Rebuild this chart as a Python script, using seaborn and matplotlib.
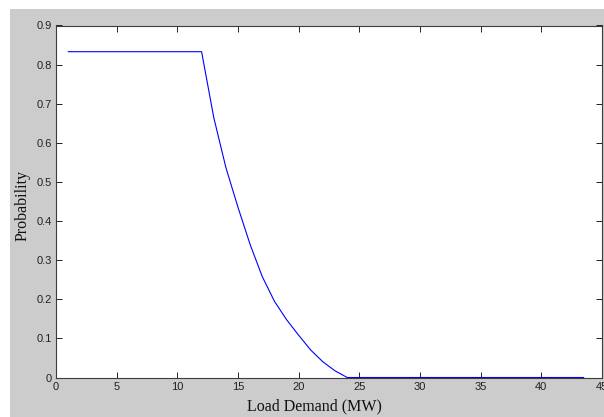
import matplotlib
matplotlib.use("Agg")
import matplotlib.pyplot as plt
import seaborn as sns
import pandas as pd
from matplotlib.patches import Rectangle

# Data
load_mw = [1, 12, 13, 14, 15, 16, 17, 18, 19, 20, 21, 22, 23, 24, 43.5]
probability = [0.833, 0.833, 0.665, 0.537, 0.435, 0.34, 0.258, 0.195, 0.148, 0.108,
               0.07, 0.04, 0.017, 0.0, 0.0]
x_ticks = [0, 5, 10, 15, 20, 25, 30, 35, 40, 45]
y_ticks = [0, 0.1, 0.2, 0.3, 0.4, 0.5, 0.6, 0.7, 0.8, 0.9]

df = pd.DataFrame({"Load Demand (MW)": load_mw, "Probability": probability})

sns.set_theme(style="white")
plt.rcParams["font.family"] = ["Liberation Sans", "DejaVu Sans"]

W, H = 604, 417
fig = plt.figure(figsize=(W / 100, H / 100), dpi=100, facecolor="white")
# gray MATLAB figure background (white strip at top/left)
bg = Rectangle((10 / W, 0), 1 - 10 / W, (H - 9) / H,
               transform=fig.transFigure, facecolor="#cccccc",
               edgecolor="none", zorder=-10)
fig.add_artist(bg)

ax = fig.add_axes([56 / W, 39.5 / H, (602 - 56) / W, (377.5 - 25.5) / H])
ax.set_zorder(5)
ax.set_facecolor("white")

sns.lineplot(data=df, x="Load Demand (MW)", y="Probability", ax=ax,
             color=(0, 0, 1), linewidth=0.8, estimator=None, sort=False)

ax.set_xlim(0, 45)
ax.set_ylim(0, 0.9)
ax.set_xticks(x_ticks)
ax.set_yticks(y_ticks)
ax.set_xticklabels([str(t) for t in x_ticks])
ax.set_yticklabels([("%g" % t) for t in y_ticks])

for s in ax.spines.values():
    s.set_visible(True)
    s.set_color("#3c3c3c")
    s.set_linewidth(0.8)

ax.tick_params(axis="both", which="both", direction="in", length=4, width=0.7,
               color="#222222", labelsize=8, labelcolor="#222222",
               top=True, right=True, bottom=True, left=True, pad=3)

ax.set_xlabel("Load Demand (MW)", fontsize=11.5, family=["Liberation Serif"],
              color="#111111")
ax.set_ylabel("Probability", fontsize=11.5, family=["Liberation Serif"],
              color="#111111")
ax.xaxis.set_label_coords(0.473, -0.058)
ax.yaxis.set_label_coords(-0.046, 0.49)

fig.savefig("out.png", dpi=100, facecolor="white")
